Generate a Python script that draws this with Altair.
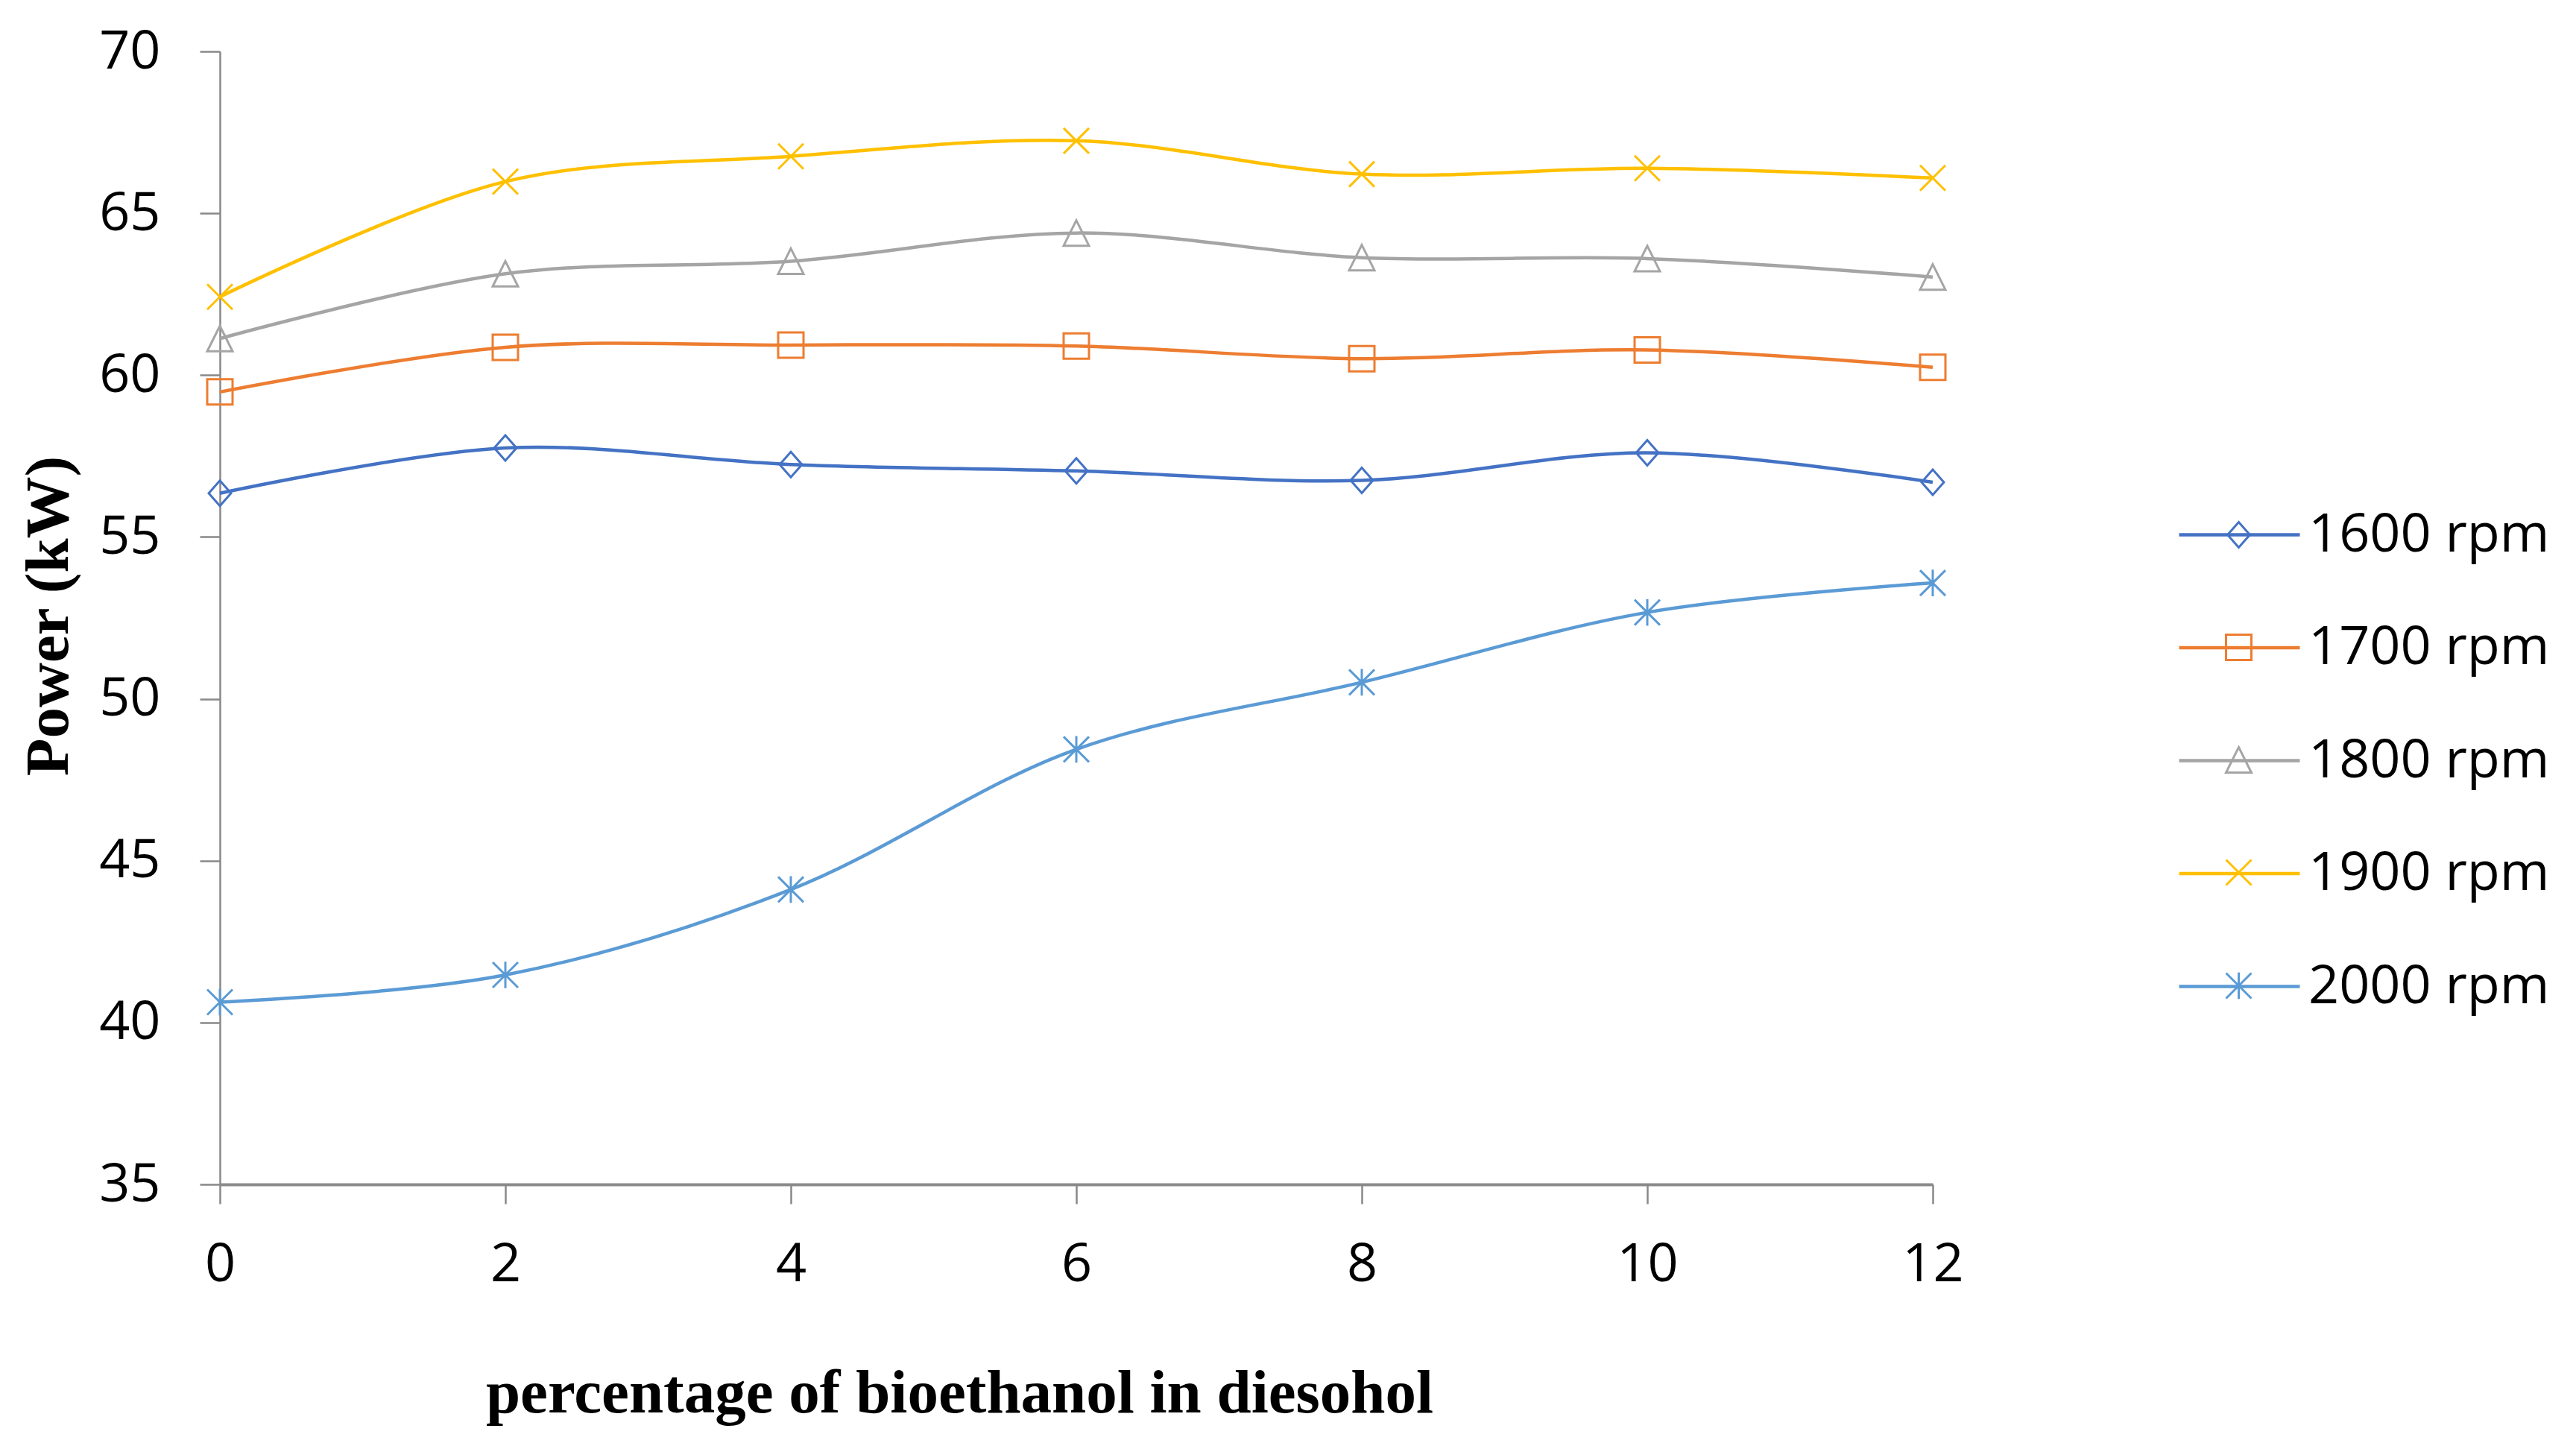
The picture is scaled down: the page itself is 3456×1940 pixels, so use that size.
import altair as alt
import pandas as pd

x_vals = [0, 2, 4, 6, 8, 10, 12]
series_names = ["1600 rpm", "1700 rpm", "1800 rpm", "1900 rpm", "2000 rpm"]
p1600 = [56.35, 57.75, 57.24, 57.04, 56.75, 57.60, 56.69]
p1700 = [59.48, 60.86, 60.93, 60.90, 60.51, 60.78, 60.24]
p1800 = [61.13, 63.13, 63.52, 64.39, 63.63, 63.60, 63.03]
p1900 = [62.42, 65.98, 66.76, 67.24, 66.21, 66.39, 66.09]
p2000 = [40.63, 41.47, 44.11, 48.44, 50.51, 52.67, 53.58]
y_ticks = [35, 40, 45, 50, 55, 60, 65, 70]
x_ticks = [0, 2, 4, 6, 8, 10, 12]

colors = ["#4472C4", "#ED7D31", "#A5A5A5", "#FFC000", "#5B9BD5"]
shapes = [
    "M-0.88,0L0,-1L0.88,0L0,1Z",
    "square",
    "M0,-1L1,1L-1,1Z",
    "M-1,-1L1,1M-1,1L1,-1",
    "M-1,-1L1,1M-1,1L1,-1M0,-1.05L0,1.05",
]

rows = []
for name, vals in zip(series_names, [p1600, p1700, p1800, p1900, p2000]):
    for xv, yv in zip(x_vals, vals):
        rows.append({"x": xv, "y": yv, "series": name})
df = pd.DataFrame(rows)

W, H = 2298, 1520
PL, PT = 287, 61

x_enc = alt.X(
    "x:Q",
    scale=alt.Scale(domain=[0, 12], nice=False),
    axis=alt.Axis(
        values=x_ticks, title="percentage of bioethanol in diesohol",
        titleX=992, titleY=305, titleAlign="center", titleBaseline="alphabetic",
        tickSize=26, labelPadding=46, domainWidth=4, tickWidth=2.5,
        labelFlush=False,
    ),
)
y_enc = alt.Y(
    "y:Q",
    scale=alt.Scale(domain=[35, 70], nice=False, zero=False),
    axis=alt.Axis(
        values=y_ticks, title="Power (kW)",
        titleAngle=270, titleX=-230, titleY=H / 2 - 3, titleAlign="center",
        titleBaseline="middle",
        tickSize=27, labelPadding=53, domainWidth=2.5, tickWidth=2.5,
        labelFlush=False,
    ),
)

LCX, LCY = 2707, 647  # legend first row centre relative to plot
line_len_layout = 150
line_legend = alt.Legend(
    title=None, orient="none",
    legendX=LCX - line_len_layout / 2, legendY=LCY - line_len_layout / 2 - 1,
    symbolType="M-1.08,0L1.08,0", symbolSize=line_len_layout ** 2,
    symbolStrokeWidth=4.5, labelFont="Open Sans", labelFontSize=72,
    labelColor="black", labelOffset=15, labelLimit=0, rowPadding=37.5, padding=0,
)
msz = 34
point_legend = alt.Legend(
    title=None, orient="none",
    legendX=LCX - msz / 2, legendY=LCY - msz / 2,
    symbolSize=msz ** 2, symbolStrokeWidth=3, labelFontSize=1,
    labelOpacity=0, labelLimit=1, rowPadding=104, padding=0,
)

color_scale = alt.Scale(domain=series_names, range=colors)

lines = alt.Chart(df).mark_line(interpolate="catmull-rom", strokeWidth=4.5).encode(
    x=x_enc, y=y_enc,
    color=alt.Color("series:N", scale=color_scale, legend=line_legend, sort=series_names),
)
points = alt.Chart(df).mark_point(filled=False, strokeWidth=3, size=msz ** 2, opacity=1).encode(
    x=x_enc, y=y_enc,
    color=alt.Color("series:N", scale=color_scale, legend=point_legend, sort=series_names),
    shape=alt.Shape("series:N", scale=alt.Scale(domain=series_names, range=shapes),
                    legend=point_legend, sort=series_names),
)

chart = alt.layer(lines, points).resolve_scale(color="independent").resolve_legend(
    color="independent", shape="independent"
).properties(
    width=W, height=H,
    autosize=alt.AutoSizeParams(type="none"),
    padding={"left": PL, "top": PT, "right": 3440 - PL - W, "bottom": 1924 - PT - H},
    background="white",
).configure_view(stroke=None).configure_axis(
    grid=False, domainColor="#898989", tickColor="#898989",
    labelFont="Open Sans", labelFontSize=72, labelColor="black",
    titleFont="Liberation Serif", titleFontWeight="bold", titleFontSize=83,
    titleColor="black",
)

chart.save("out.html", embed_options={"renderer": "svg", "actions": False})
